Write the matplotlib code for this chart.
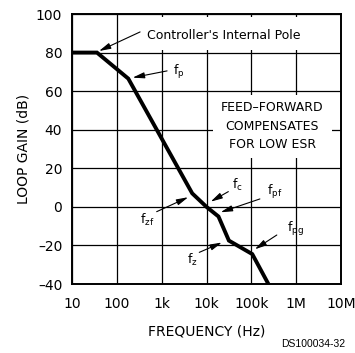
import matplotlib.pyplot as plt
from matplotlib.patches import Rectangle

# loop gain asymptotes (Hz, dB)
freq = [10, 36, 180, 4800, 10000, 18500, 31600, 105000, 240000]
gain = [80, 80, 66.5, 7, 0, -5, -17.5, -24.5, -40]

x_ticks = [10, 100, 1e3, 1e4, 1e5, 1e6, 1e7]
x_labels = ["10", "100", "1k", "10k", "100k", "1M", "10M"]
y_ticks = [-40, -20, 0, 20, 40, 60, 80, 100]

# (label, text pos, arrow tail, arrow head, ha)
callouts = [
    (r"$\mathregular{f_p}$", (1780, 70), (1320, 70.5), (225, 67), "left"),
    (r"$\mathregular{f_c}$", (37000, 11.5), (30700, 7.9), (12400, 2.7), "left"),
    (r"$\mathregular{f_{pf}}$", (224000, 7.8), (155000, 4.1), (20700, -2.8), "left"),
    (r"$\mathregular{f_{zf}}$", (700, -6.8), (774, -2.5), (3900, 5), "right"),
    (r"$\mathregular{f_{pg}}$", (620000, -11.5), (370000, -14.6), (120000, -22), "left"),
    (r"$\mathregular{f_z}$", (4750, -27.5), (6900, -23.6), (22000, -18.5), "center"),
]

fig = plt.figure(figsize=(3.55, 3.53), dpi=100)
ax = fig.add_axes([72 / 355, 1 - 284 / 353, 269 / 355, 270 / 353])

ax.set_xscale("log")
ax.set_xlim(10, 1e7)
ax.set_ylim(-40, 100)
ax.set_xticks(x_ticks)
ax.set_xticklabels(x_labels)
ax.set_yticks(y_ticks)
ax.set_yticklabels([str(v).replace("-", "\u2013") for v in y_ticks])
ax.minorticks_off()
ax.tick_params(length=0, labelsize=10)
ax.tick_params(axis="x", pad=9)
ax.tick_params(axis="y", pad=7)
ax.grid(True, which="major", color="black", lw=0.9)
for s in ax.spines.values():
    s.set_linewidth(1.4)

# white patches behind the text blocks hide the grid
ax.add_patch(Rectangle((0.264, 0.867), 0.695, 0.122, transform=ax.transAxes,
                       facecolor="white", edgecolor="none", zorder=1.8))
ax.add_patch(Rectangle((0.524, 0.467), 0.443, 0.233, transform=ax.transAxes,
                       facecolor="white", edgecolor="none", zorder=1.8))

ax.plot(freq, gain, color="black", lw=2.8, solid_joinstyle="miter", zorder=3)

arrow = dict(arrowstyle="-|>,head_length=0.7,head_width=0.18", color="black",
             lw=0.8, shrinkA=0, shrinkB=0)

ax.text(470, 89.1, "Controller's Internal Pole", fontsize=9, va="center", zorder=4)
ax.annotate("", xy=(40, 80.8), xytext=(330, 90.7), arrowprops=arrow, zorder=4)

for label, pos, tail, head, ha in callouts:
    ax.text(pos[0], pos[1], label, fontsize=9, ha=ha, va="center", zorder=4)
    ax.annotate("", xy=head, xytext=tail, arrowprops=arrow, zorder=4)

ax.text(0.745, 0.585, "FEED\u2013FORWARD\nCOMPENSATES\nFOR LOW ESR", transform=ax.transAxes,
        fontsize=9, ha="center", va="center", linespacing=1.58, zorder=4)

ax.set_xlabel("FREQUENCY (Hz)", fontsize=10, labelpad=10)
ax.set_ylabel("LOOP GAIN (dB)", fontsize=10, labelpad=4)

fig.text(0.972, 0.012, "DS100034-32", fontsize=7.5, ha="right", va="bottom",
         family="Liberation Sans")

fig.savefig("out.png", dpi=100)
